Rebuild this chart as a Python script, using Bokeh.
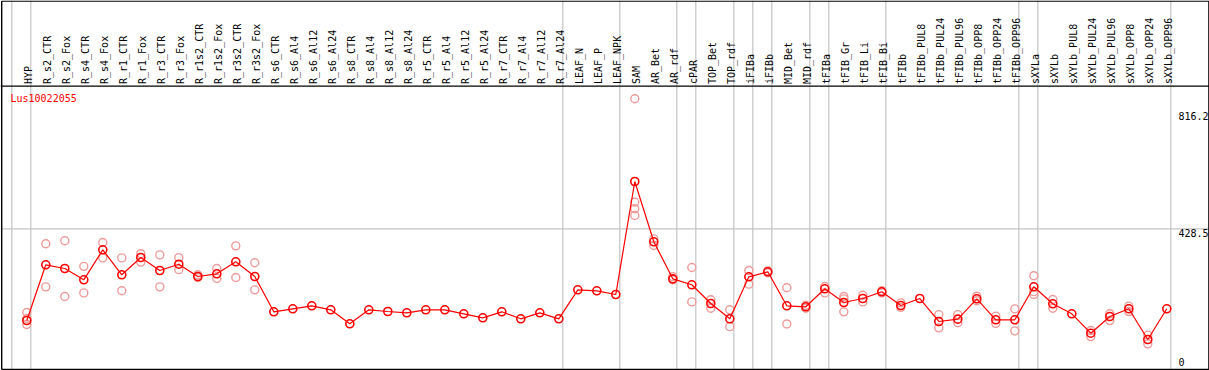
import numpy as np
from bokeh.plotting import figure
from bokeh.models import Range1d
from bokeh.core.properties import value
from bokeh.embed import file_html
from bokeh.resources import INLINE

# ---------------- data ----------------
gene_id = "Lus10022055"

categories = [
    "HYP", "R_s2_CTR", "R_s2_Fox", "R_s4_CTR", "R_s4_Fox", "R_r1_CTR", "R_r1_Fox",
    "R_r3_CTR", "R_r3_Fox", "R_r1s2_CTR", "R_r1s2_Fox", "R_r3s2_CTR", "R_r3s2_Fox",
    "R_s6_CTR", "R_s6_Al4", "R_s6_Al12", "R_s6_Al24", "R_s8_CTR", "R_s8_Al4",
    "R_s8_Al12", "R_s8_Al24", "R_r5_CTR", "R_r5_Al4", "R_r5_Al12", "R_r5_Al24",
    "R_r7_CTR", "R_r7_Al4", "R_r7_Al12", "R_r7_Al24", "LEAF_N", "LEAF_P", "LEAF_NPK",
    "SAM", "AR_Bet", "AR_rdf", "cPAR", "TOP_Bet", "TOP_rdf", "iFIBa", "iFIBb",
    "MID_Bet", "MID_rdf", "tFIBa", "tFIB_Gr", "tFIB_Li", "tFIB_Bi", "tFIBb",
    "tFIBb_PUL8", "tFIBb_PUL24", "tFIBb_PUL96", "tFIBb_OPP8", "tFIBb_OPP24",
    "tFIBb_OPP96", "sXYLa", "sXYLb", "sXYLb_PUL8", "sXYLb_PUL24", "sXYLb_PUL96",
    "sXYLb_OPP8", "sXYLb_OPP24", "sXYLb_OPP96",
]

mean_values = [
    124.4, 309.1, 296.8, 259.3, 358.8, 275.9, 333.3, 290.2, 311.1, 270.3, 279.3,
    319.0, 270.3, 153.2, 163.2, 173.1, 159.9, 113.4, 159.9, 154.2, 149.9, 159.9,
    159.9, 146.6, 133.3, 153.2, 130.0, 149.9, 130.0, 226.2, 222.9, 210.6, 585.4,
    385.4, 262.6, 242.8, 180.8, 130.0, 269.3, 285.9, 173.1, 169.8, 229.5, 184.1,
    197.3, 219.6, 174.1, 197.3, 121.1, 128.9, 196.4, 126.7, 126.7, 236.2, 179.8,
    146.6, 82.3, 137.6, 163.2, 61.4, 163.2,
]

replicates = [
    [151, 131, 111], [379, 236], [389, 204], [304, 216], [383, 332], [332, 223],
    [346, 318], [342, 236], [333, 293], [276, 267], [297, 264], [372, 267],
    [316, 226], [], [], [], [], [], [], [], [], [], [], [], [], [], [], [], [],
    [], [], [], [860, 517, 495, 473], [395, 373], [270, 259], [300, 186],
    [193, 165], [160, 104], [290, 245], [289, 283], [233, 113], [175, 165],
    [237, 216], [204, 196, 153], [208, 186], [223, 216], [183, 168], [],
    [144, 100], [144, 117], [205, 190], [139, 115], [163, 90], [273, 220, 211],
    [194, 165], [], [91, 71], [147, 124], [172, 154], [76, 47], [],
]

# a separator line follows each of these categories ("" = before the first)
group_ends = ["", "HYP", "R_r7_Al24", "LEAF_NPK", "AR_rdf", "cPAR", "TOP_rdf",
              "iFIBa", "iFIBb", "MID_rdf", "tFIBa", "tFIB_Bi", "tFIBb_OPP96",
              "sXYLa", "sXYLb_OPP96"]

tick_values = [0, 428.5, 816.2]
tick_labels = ["0", "428.5", "816.2"]

# ---------------- layout (pixel geometry) ----------------
W, H = 1209, 370
X0_PX, STEP_PX = 26.3, 19.0
ZERO_PX, PX_PER_UNIT = 357.5, 0.3015
SEP_OFF = 4.0 / STEP_PX


def xd(px):
    return (px - X0_PX) / STEP_PX


def yd(px):
    return (ZERO_PX - px) / PX_PER_UNIT


FONT = value("DejaVu Sans Mono")

p = figure(width=W, height=H, x_range=Range1d(xd(0), xd(W)),
           y_range=Range1d(yd(H), yd(0)), output_backend="svg",
           toolbar_location=None, x_axis_location=None, y_axis_location=None,
           min_border=0, min_border_left=0, min_border_right=0,
           min_border_top=0, min_border_bottom=0)
p.grid.visible = False
p.outline_line_color = None
p.background_fill_color = "white"
p.border_fill_color = "white"

idx = list(range(len(categories)))

# separators
sep_x = [(categories.index(n) if n else -1) + SEP_OFF for n in group_ends]
p.segment(x0=sep_x, y0=[yd(0)] * len(sep_x), x1=sep_x, y1=[yd(H)] * len(sep_x),
          line_color="#c4c4c4", line_width=1.2)

# mid gridline
p.segment(x0=[xd(0)], y0=[tick_values[1]], x1=[xd(W)], y1=[tick_values[1]],
          line_color="#c4c4c4", line_width=1.2)

# frame + header line
bx0, bx1, by0, by1 = xd(1.2), xd(1208.4), yd(0.6), yd(369.0)
p.segment(x0=[bx0, bx0, bx0, bx1, xd(0)], y0=[by0, by1, by0, by0, yd(85.6)],
          x1=[bx1, bx1, bx0, bx1, xd(W)], y1=[by0, by1, by1, by1, yd(85.6)],
          line_color="black", line_width=1.4)

# replicate points
rx = [i for i, reps in enumerate(replicates) for _ in reps]
ry = [v for reps in replicates for v in reps]
p.scatter(rx, ry, marker="circle", size=8, fill_color=None,
          line_color="#ee9a9a", line_width=1.4)

# mean line + points
p.line(idx, mean_values, line_color="red", line_width=1.2)
p.scatter(idx, mean_values, marker="circle", size=8, fill_color=None,
          line_color="red", line_width=1.6)

# category labels (vertical)
p.text(x=idx, y=[yd(83.5)] * len(idx), text=categories, angle=np.pi / 2,
       x_offset=1.5, text_align="left", text_baseline="alphabetic",
       text_font=FONT, text_font_size="10px", text_color="black")

# gene id
p.text(x=[xd(10)], y=[yd(97.5)], text=[gene_id], text_align="left",
       text_baseline="alphabetic", text_font=FONT, text_font_size="10px",
       text_color="red")

# value labels on the right
p.text(x=[xd(1178)] * len(tick_values), y=tick_values, text=tick_labels,
       text_align="left", text_baseline="top", text_font=FONT,
       text_font_size="10px", text_color="black")

html = file_html(p, INLINE)
html = html.replace("<head>", "<head><style>html,body{margin:0!important;padding:0!important;overflow:hidden;}</style>", 1)
open("out.html", "w").write(html)
